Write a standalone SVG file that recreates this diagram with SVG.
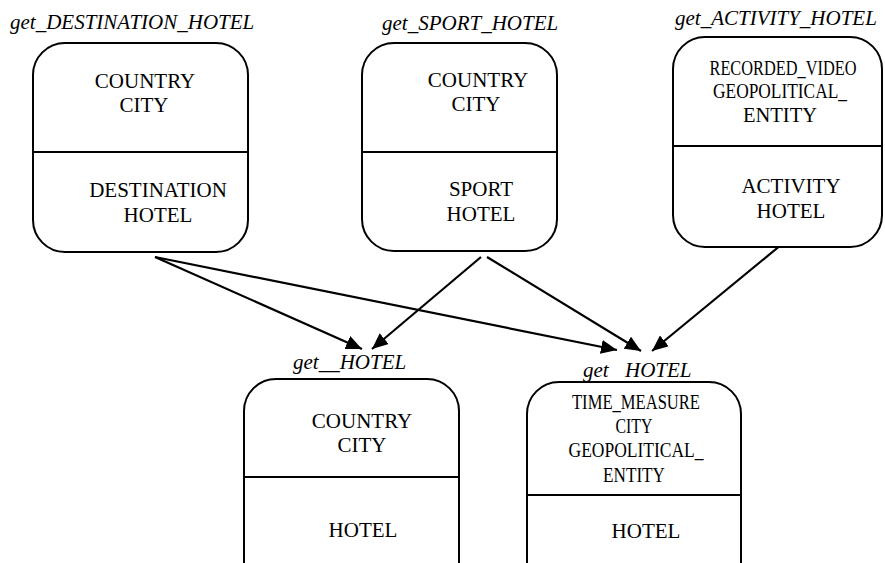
<svg xmlns="http://www.w3.org/2000/svg" width="885" height="563" viewBox="0 0 885 563">
<defs>
  <marker id="ah" markerUnits="userSpaceOnUse" markerWidth="18" markerHeight="14" refX="16" refY="7" orient="auto">
    <path d="M0,0 L16,7 L0,14 z" fill="#000"/>
  </marker>
</defs>
<rect width="885" height="563" fill="#fff"/>
<g id="connectors" stroke="#000" stroke-width="2.2" fill="none" marker-end="url(#ah)">
  <line x1="155" y1="257" x2="362" y2="349"/>
  <line x1="155" y1="257" x2="617" y2="350"/>
  <line x1="481" y1="257" x2="372" y2="349"/>
  <line x1="487" y1="257" x2="641" y2="351"/>
  <line x1="787" y1="240" x2="652" y2="351"/>
</g>
<g id="get_DESTINATION_HOTEL">
  <text font-family="Times New Roman" font-size="21" font-style="italic" x="10" y="29">get_DESTINATION_HOTEL</text>
  <rect x="33" y="43" width="215" height="209" rx="32" fill="#fff" stroke="#000" stroke-width="2"/>
  <line x1="33" y1="152" x2="248" y2="152" stroke="#000" stroke-width="2"/>
  <text font-family="Times New Roman" font-size="21" text-anchor="middle" x="145" y="88">COUNTRY</text>
  <text font-family="Times New Roman" font-size="21" text-anchor="middle" x="144" y="112">CITY</text>
  <text font-family="Times New Roman" font-size="21" text-anchor="middle" x="158" y="197">DESTINATION</text>
  <text font-family="Times New Roman" font-size="21" text-anchor="middle" x="158" y="222">HOTEL</text>
</g>
<g id="get_SPORT_HOTEL">
  <text font-family="Times New Roman" font-size="21" font-style="italic" x="382" y="30">get_SPORT_HOTEL</text>
  <rect x="362" y="43" width="195" height="208" rx="32" fill="#fff" stroke="#000" stroke-width="2"/>
  <line x1="362" y1="152" x2="557" y2="152" stroke="#000" stroke-width="2"/>
  <text font-family="Times New Roman" font-size="21" text-anchor="middle" x="478" y="87">COUNTRY</text>
  <text font-family="Times New Roman" font-size="21" text-anchor="middle" x="476" y="111">CITY</text>
  <text font-family="Times New Roman" font-size="21" text-anchor="middle" x="481" y="196">SPORT</text>
  <text font-family="Times New Roman" font-size="21" text-anchor="middle" x="481" y="221">HOTEL</text>
</g>
<g id="get_ACTIVITY_HOTEL">
  <text font-family="Times New Roman" font-size="21" font-style="italic" x="675" y="25">get_ACTIVITY_HOTEL</text>
  <rect x="673" y="37" width="209" height="210" rx="32" fill="#fff" stroke="#000" stroke-width="2"/>
  <line x1="673" y1="146" x2="882" y2="146" stroke="#000" stroke-width="2"/>
  <text font-family="Times New Roman" font-size="21" text-anchor="middle" x="783" y="75" textLength="147" lengthAdjust="spacingAndGlyphs">RECORDED_VIDEO</text>
  <text font-family="Times New Roman" font-size="21" text-anchor="middle" x="780" y="98" textLength="134" lengthAdjust="spacingAndGlyphs">GEOPOLITICAL_</text>
  <text font-family="Times New Roman" font-size="21" text-anchor="middle" x="780" y="122" textLength="74" lengthAdjust="spacingAndGlyphs">ENTITY</text>
  <text font-family="Times New Roman" font-size="21" text-anchor="middle" x="791" y="193">ACTIVITY</text>
  <text font-family="Times New Roman" font-size="21" text-anchor="middle" x="791" y="218">HOTEL</text>
</g>
<g id="get__HOTEL">
  <text font-family="Times New Roman" font-size="21" font-style="italic" x="293" y="369">get__HOTEL</text>
  <rect x="244" y="379" width="215" height="215" rx="32" fill="#fff" stroke="#000" stroke-width="2"/>
  <line x1="244" y1="477" x2="459" y2="477" stroke="#000" stroke-width="2"/>
  <text font-family="Times New Roman" font-size="21" text-anchor="middle" x="362" y="428">COUNTRY</text>
  <text font-family="Times New Roman" font-size="21" text-anchor="middle" x="362" y="452">CITY</text>
  <text font-family="Times New Roman" font-size="21" text-anchor="middle" x="363" y="537">HOTEL</text>
</g>
<g id="get_HOTEL">
  <text font-family="Times New Roman" font-size="21" font-style="italic" x="583" y="377">get<tspan x="625">HOTEL</tspan></text>
  <rect x="527" y="382" width="214" height="215" rx="32" fill="#fff" stroke="#000" stroke-width="2"/>
  <line x1="527" y1="495" x2="741" y2="495" stroke="#000" stroke-width="2"/>
  <text font-family="Times New Roman" font-size="21" text-anchor="middle" x="636" y="409" textLength="128" lengthAdjust="spacingAndGlyphs">TIME_MEASURE</text>
  <text font-family="Times New Roman" font-size="21" text-anchor="middle" x="634" y="433" textLength="37" lengthAdjust="spacingAndGlyphs">CITY</text>
  <text font-family="Times New Roman" font-size="21" text-anchor="middle" x="636" y="457" textLength="135" lengthAdjust="spacingAndGlyphs">GEOPOLITICAL_</text>
  <text font-family="Times New Roman" font-size="21" text-anchor="middle" x="634" y="482" textLength="62" lengthAdjust="spacingAndGlyphs">ENTITY</text>
  <text font-family="Times New Roman" font-size="21" text-anchor="middle" x="646" y="538">HOTEL</text>
</g>
</svg>
